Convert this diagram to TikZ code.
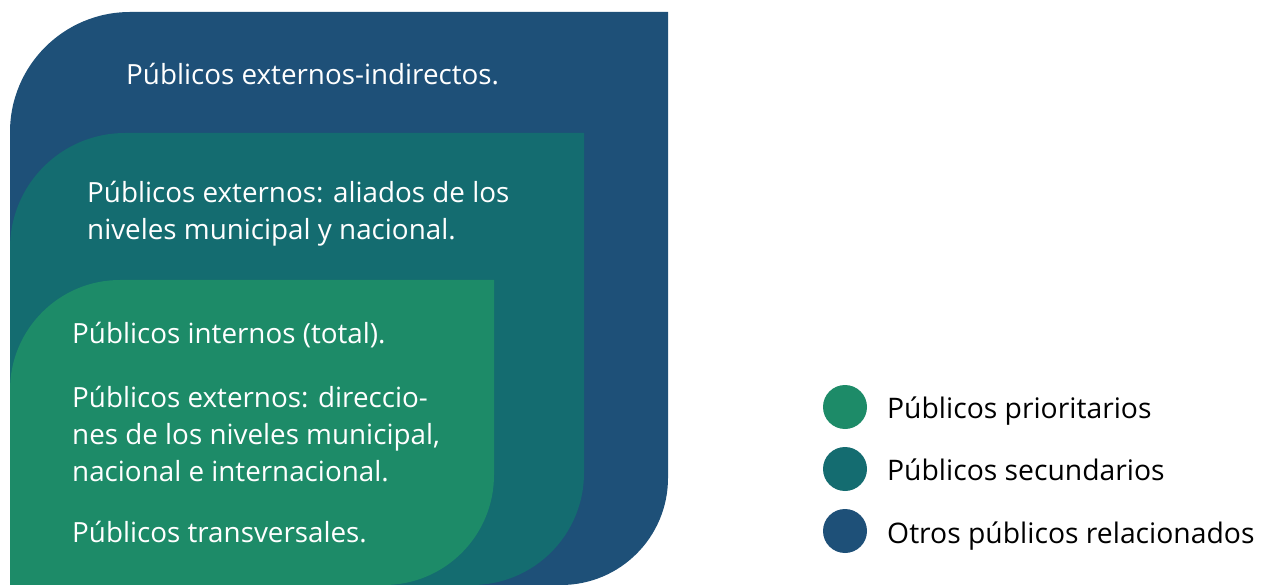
\documentclass[tikz,border=0pt]{standalone}
\usepackage{fontspec}
\setmainfont{Open Sans}
\definecolor{cblue}{HTML}{1E5078}
\definecolor{cteal}{HTML}{146C70}
\definecolor{cgreen}{HTML}{1D8B68}
\begin{document}
\begin{tikzpicture}[x=1pt,y=-1pt,
  lbl/.style={anchor=base west,inner sep=0pt,text=white,font=\fontsize{27.8}{37}\selectfont,align=left},
  leg/.style={anchor=base west,inner sep=0pt,text=black,font=\fontsize{28.3}{37}\selectfont},
  dot/.style={circle,inner sep=0pt,minimum size=44pt}]
\useasboundingbox (0,0) rectangle (1261,585);
% outer
\fill[cblue] (10,585) -- (10,132) arc[start angle=180,end angle=270,radius=120] -- (668,12) -- (668,478) arc[start angle=0,end angle=90,radius=107] -- cycle;
% middle
\fill[cteal] (10,585) -- (10,248) arc[start angle=180,end angle=270,radius=115] -- (584,133) -- (584,473) arc[start angle=0,end angle=90,radius=112] -- cycle;
% inner
\fill[cgreen] (10,585) -- (10,390) arc[start angle=180,end angle=270,radius=110] -- (494,280) -- (494,475) arc[start angle=0,end angle=90,radius=110] -- cycle;
\node[lbl] (t1) at (126,85) {Públicos externos-indirectos.};
\node[lbl] (t2) at (87,240) {Públicos externos: aliados de los\\niveles municipal y nacional.};
\node[lbl] (t3) at (72,343) {Públicos internos (total).};
\node[lbl] (t4) at (72,481) {Públicos externos: direccio-\\nes de los niveles municipal,\\nacional e internacional.};
\node[lbl] (t5) at (72,542) {Públicos transversales.};
\node[dot,fill=cgreen] (d1) at (845,407) {};
\node[dot,fill=cteal] (d2) at (845,469) {};
\node[dot,fill=cblue] (d3) at (845,531) {};
\node[leg] (l1) at (887,418) {Públicos prioritarios};
\node[leg] (l2) at (887,480) {Públicos secundarios};
\node[leg] (l3) at (887,543) {Otros públicos relacionados};
\end{tikzpicture}
\end{document}
